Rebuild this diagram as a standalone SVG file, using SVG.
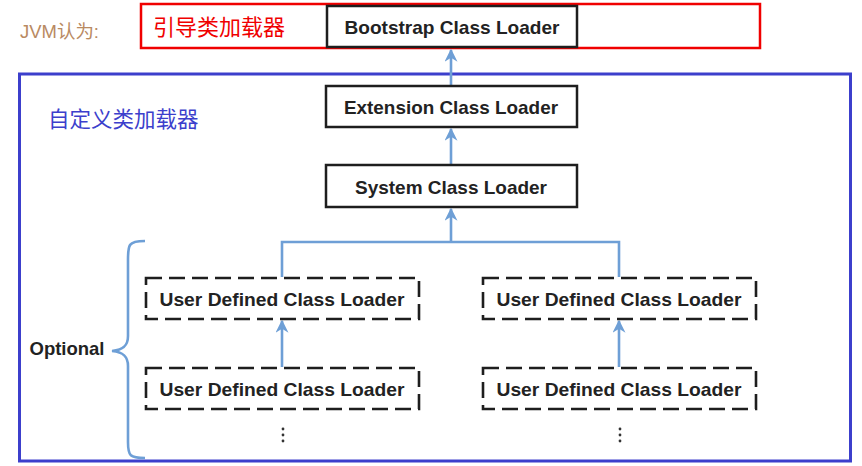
<svg xmlns="http://www.w3.org/2000/svg" width="862" height="466" viewBox="0 0 862 466">
<style>
.box{fill:#fff;stroke:#1e1e1e;stroke-width:2.5}
.dash{fill:#fff;stroke:#1e1e1e;stroke-width:2.6;stroke-dasharray:16 7}
.lbl{font-family:"Liberation Sans",Arial,sans-serif;font-weight:bold;font-size:19px;fill:#222;text-anchor:middle}
.conn{fill:none;stroke:#6e9fd6;stroke-width:2.6}
.cjk{font-family:"Liberation Sans","Noto Sans CJK SC",sans-serif}
</style>
<defs>
<marker id="ah" viewBox="0 0 10 10" refX="9" refY="5" markerWidth="5" markerHeight="5" orient="auto" markerUnits="strokeWidth">
<path d="M0,0 L10,5 L0,10 L3,5 Z" fill="#6e9fd6"/>
</marker>
</defs>
<rect width="862" height="466" fill="#fff"/>
<g id="frames">
<rect x="141" y="4" width="619" height="44" fill="none" stroke="#f00000" stroke-width="2.5"/>
<rect x="19.5" y="74" width="831" height="387" fill="none" stroke="#3c3fcc" stroke-width="3"/>
<text class="cjk" x="20" y="38" font-size="18" fill="#b98a62" textLength="79" lengthAdjust="spacingAndGlyphs">JVM认为:</text>
<text class="cjk" x="153" y="35" font-size="22" fill="#f00000">引导类加载器</text>
<text class="cjk" x="48" y="127" font-size="21.5" fill="#3c3fcc">自定义类加载器</text>
</g>
<g id="connectors">
<path class="conn" d="M451,85 L451,50" marker-end="url(#ah)"/>
<path class="conn" d="M451,164 L451,129" marker-end="url(#ah)"/>
<path class="conn" d="M282,277 L282,242 L619,242 L619,277 M451,242 L451,209" marker-end="url(#ah)"/>
<path class="conn" d="M282,367 L282,321" marker-end="url(#ah)"/>
<path class="conn" d="M619,367 L619,321" marker-end="url(#ah)"/>
<path d="M145,241 C128,241 128,245 128,260 L128,336 C128,345 124,350 112,351 C124,352 128,357 128,366 L128,442 C128,456 130,458 145,458" fill="none" stroke="#6e9fd6" stroke-width="2.6"/>
</g>
<g id="bootstrap">
<rect class="box" x="327" y="6" width="250" height="41"/>
<text class="lbl" x="452" y="34" textLength="215" lengthAdjust="spacingAndGlyphs">Bootstrap Class Loader</text>
</g>
<g id="extension">
<rect class="box" x="326" y="86" width="251" height="41"/>
<text class="lbl" x="451" y="114" textLength="214" lengthAdjust="spacingAndGlyphs">Extension Class Loader</text>
</g>
<g id="system">
<rect class="box" x="326" y="165" width="251" height="42"/>
<text class="lbl" x="451" y="194" textLength="192" lengthAdjust="spacingAndGlyphs">System Class Loader</text>
</g>
<g id="user1">
<rect class="dash" x="146" y="278" width="273" height="41"/>
<text class="lbl" x="282" y="306" textLength="245" lengthAdjust="spacingAndGlyphs">User Defined Class Loader</text>
</g>
<g id="user2">
<rect class="dash" x="146" y="368" width="273" height="41"/>
<text class="lbl" x="282" y="396" textLength="245" lengthAdjust="spacingAndGlyphs">User Defined Class Loader</text>
</g>
<g id="user3">
<rect class="dash" x="483" y="278" width="273" height="41"/>
<text class="lbl" x="619" y="306" textLength="245" lengthAdjust="spacingAndGlyphs">User Defined Class Loader</text>
</g>
<g id="user4">
<rect class="dash" x="483" y="368" width="273" height="41"/>
<text class="lbl" x="619" y="396" textLength="245" lengthAdjust="spacingAndGlyphs">User Defined Class Loader</text>
</g>
<g id="dots" fill="#333">
<circle cx="283" cy="429" r="1.4"/><circle cx="283" cy="435" r="1.4"/><circle cx="283" cy="441" r="1.4"/>
<circle cx="620" cy="429" r="1.4"/><circle cx="620" cy="435" r="1.4"/><circle cx="620" cy="441" r="1.4"/>
</g>
<text class="lbl" x="67" y="355" textLength="75" lengthAdjust="spacingAndGlyphs">Optional</text>
</svg>
